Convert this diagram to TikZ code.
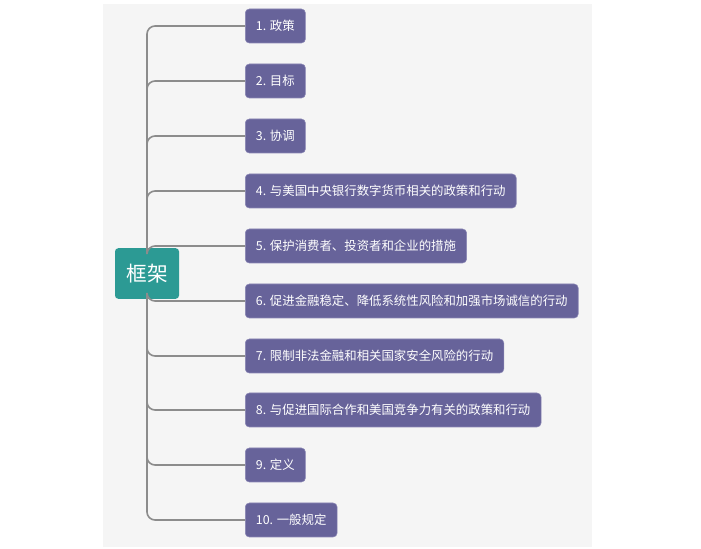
\documentclass[tikz,border=0pt]{standalone}
\usepackage{fontspec}
\newfontfamily\cjk{Noto Sans CJK SC}
\usepackage{tikz}
\definecolor{panelgray}{HTML}{F5F5F5}
\definecolor{rootteal}{HTML}{2C9A94}
\definecolor{itempurple}{HTML}{67639A}
\definecolor{itemedge}{HTML}{8A86B4}
\definecolor{linkgray}{HTML}{8C8C8C}
\tikzset{
	rootbox/.style={fill=rootteal, text=white, rounded corners=2.5pt, minimum width=48pt, minimum height=38pt, inner sep=0pt, font=\cjk\fontsize{15.5}{18}\selectfont},
	itembox/.style={fill=itempurple, draw=itemedge, line width=0.4pt, text=white, rounded corners=3pt, anchor=west, minimum height=25.5pt, inner xsep=8pt, inner ysep=0pt, font=\cjk\fontsize{9.3}{11}\selectfont},
	link/.style={draw=linkgray, line width=1.2pt, rounded corners=6pt}
}

\begin{document}
\begin{tikzpicture}[x=0.75pt, y=-0.75pt]
		%%%%% START %%%%%
		
		\useasboundingbox (0, 0) rectangle (701, 549);
		\fill[panelgray] (103, 4) rectangle (592, 547);
		
		\node[rootbox] (root) at (147, 273.5) {框架};
		
		\node[itembox] (b1) at (245, 26) {1. 政策};
		\node[itembox] (b2) at (245, 81) {2. 目标};
		\node[itembox] (b3) at (245, 136) {3. 协调};
		\node[itembox] (b4) at (245, 191) {4. 与美国中央银行数字货币相关的政策和行动};
		\node[itembox] (b5) at (245, 246) {5. 保护消费者、投资者和企业的措施};
		
		\node[itembox] (b6) at (245, 301) {6. 促进金融稳定、降低系统性风险和加强市场诚信的行动};
		\node[itembox] (b7) at (245, 356) {7. 限制非法金融和相关国家安全风险的行动};
		\node[itembox] (b8) at (245, 410) {8. 与促进国际合作和美国竞争力有关的政策和行动};
		\node[itembox] (b9) at (245, 465) {9. 定义};
		\node[itembox] (b10) at (245, 520) {10. 一般规定};
		
		% upper branches
		\draw[link] (root.north) |- (b1.west);
		\draw[link] (root.north) |- (b2.west);
		\draw[link] (root.north) |- (b3.west);
		\draw[link] (root.north) |- (b4.west);
		\draw[link] (root.north) |- (b5.west);
		
		% lower branches
		\draw[link] (root.south) |- (b6.west);
		\draw[link] (root.south) |- (b7.west);
		\draw[link] (root.south) |- (b8.west);
		\draw[link] (root.south) |- (b9.west);
		\draw[link] (root.south) |- (b10.west);
		
		%%%%% END %%%%%
	\end{tikzpicture}
\end{document}
